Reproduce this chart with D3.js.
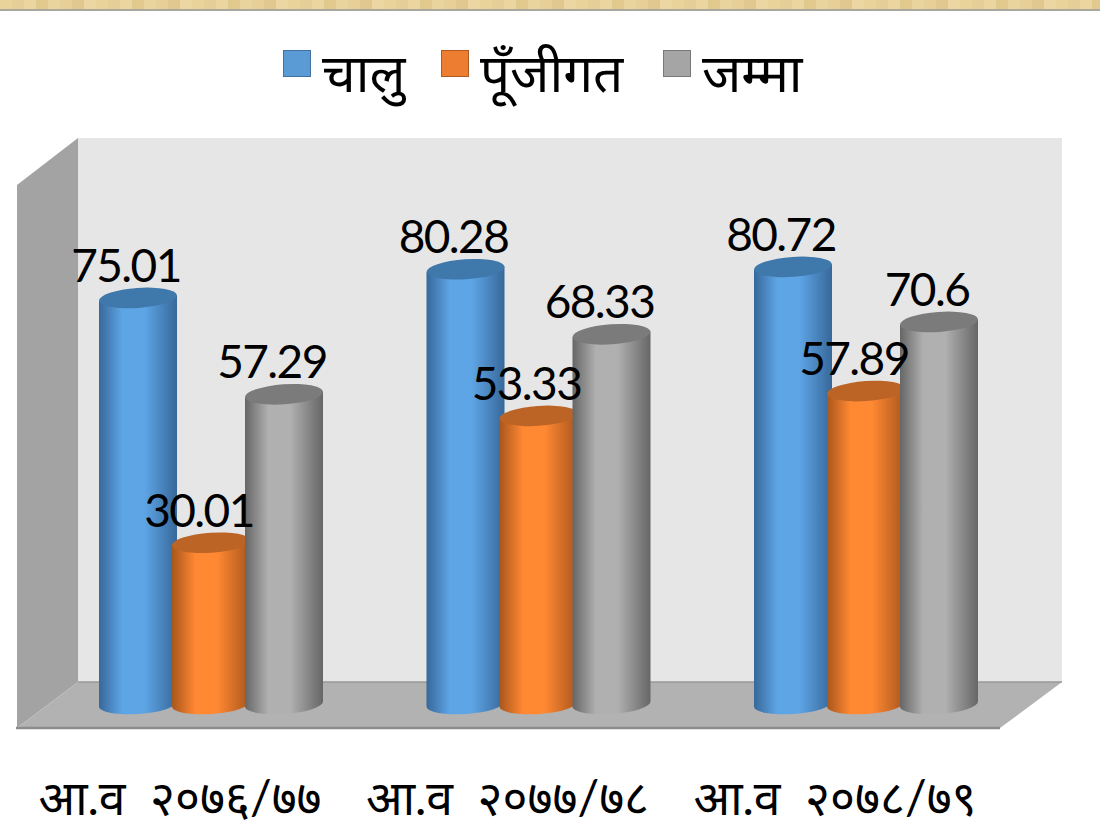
<!DOCTYPE html>
<html>
<head>
<meta charset="utf-8">
<script src="https://cdn.jsdelivr.net/npm/d3@7"></script>
<style>
html,body{margin:0;padding:0;background:#fff;overflow:hidden}
text{font-family:Lato,"Noto Sans","DejaVu Sans",sans-serif;fill:#000}
</style>
</head>
<body>
<script>
const categories = ["आ.व  २०७६/७७", "आ.व  २०७७/७८", "आ.व  २०७८/७९"]
const seriesNames = ["चालु", "पूँजीगत", "जम्मा"]
const chalu = [75.01, 80.28, 80.72]
const punjigat = [30.01, 53.33, 57.89]
const jamma = [57.29, 68.33, 70.6]
const seriesColors = [
  {edge:"#37689a", mid:"#5ea5e6", top:"#3f78ab", swatch:"#5b9bd5", line:"#41719c"},
  {edge:"#a9561c", mid:"#ff8833", top:"#bc6426", swatch:"#ed7d31", line:"#ae5a21"},
  {edge:"#666666", mid:"#b0b0b0", top:"#7b7b7b", swatch:"#a5a5a5", line:"#787878"}
]
const woodStripes = ["#e9d39b","#e6cf96","#ebd6a0","#e2ca8f","#ead49e","#e7d098","#e0c88e","#ecd7a2"]

const width = 1100, height = 824
const svg = d3.select("body").append("svg")
  .attr("width",width).attr("height",height)
  .attr("viewBox",`0 0 ${width} ${height}`)
  .style("display","block")
const defs = svg.append("defs")

// banner strip at the very top
const wood = defs.append("pattern").attr("id","wood")
  .attr("patternUnits","userSpaceOnUse").attr("width",96).attr("height",10)
wood.selectAll("rect").data(woodStripes).join("rect")
  .attr("x",(d,i)=>i*12).attr("width",12).attr("height",10).attr("fill",d=>d)
svg.append("rect").attr("width",width).attr("height",9).attr("fill","url(#wood)")
svg.append("rect").attr("y",9).attr("width",width).attr("height",2).attr("fill","#aaa79d")

// 3d box
const wall = {left:78,right:1062,top:138,floor:682}
const depth = {x:-61,y:46}
svg.append("rect").attr("x",wall.left).attr("y",wall.top)
  .attr("width",wall.right-wall.left).attr("height",wall.floor-wall.top).attr("fill","#e6e6e6")
svg.append("path").attr("fill","#a3a3a3")
  .attr("d",d3.line()([[wall.left,wall.top],[wall.left+depth.x,wall.top+depth.y+1],[wall.left+depth.x,wall.floor+depth.y],[wall.left,wall.floor]]))
svg.append("path").attr("fill","#b2b2b2")
  .attr("d",d3.line()([[wall.left,wall.floor],[wall.right,wall.floor],[wall.right+depth.x-1,wall.floor+depth.y],[wall.left+depth.x,wall.floor+depth.y]]))
svg.append("line").attr("x1",wall.left).attr("x2",wall.right).attr("y1",wall.floor).attr("y2",wall.floor).attr("stroke","#999").attr("stroke-width",1.5)
svg.append("line").attr("x1",wall.left+depth.x-1).attr("x2",wall.right+depth.x-1).attr("y1",wall.floor+depth.y).attr("y2",wall.floor+depth.y).attr("stroke","#8c8c8c").attr("stroke-width",2.5)

// scales
const x = d3.scaleBand().domain(categories).range([47.25,1029.75])
const inner = d3.scalePoint().domain(seriesNames).range([-73,73])
const y = d3.scaleLinear().domain([0,100]).range([706,162])

const rx = 39, ry = 10, tilt = -4

seriesColors.forEach((c,i)=>{
  const g = defs.append("linearGradient").attr("id","cyl"+i)
  g.append("stop").attr("offset","0%").attr("stop-color",c.edge)
  g.append("stop").attr("offset","30%").attr("stop-color",c.mid)
  g.append("stop").attr("offset","58%").attr("stop-color",c.mid)
  g.append("stop").attr("offset","100%").attr("stop-color",c.edge)
})

const bars = []
const allValues = [chalu,punjigat,jamma]
seriesNames.forEach((s,i)=>categories.forEach((cat,j)=>{
  bars.push({s,i,cat,v:allValues[i][j]})
}))

const cyl = svg.selectAll(".bar").data(bars).join("g").attr("class","bar")
  .attr("transform",d=>`translate(${x(d.cat)+x.bandwidth()/2+inner(d.s)},0)`)

cyl.append("path")
  .attr("fill",d=>`url(#cyl${d.i})`)
  .attr("d",d=>{
    const t=y(d.v), b=y(0)-2
    const dy=Math.sin(-tilt*Math.PI/180)*rx
    return `M${-rx},${t+dy} L${-rx},${b+dy} A${rx},${ry} ${tilt} 0 0 ${rx},${b-dy} L${rx},${t-dy} Z`
  })
cyl.append("ellipse")
  .attr("rx",rx).attr("ry",ry)
  .attr("transform",d=>`translate(0,${y(d.v)}) rotate(${tilt})`)
  .attr("fill",d=>seriesColors[d.i].top)

// value labels go over every bar
svg.selectAll(".val").data(bars).join("text").attr("class","val")
  .attr("x",d=>x(d.cat)+x.bandwidth()/2+inner(d.s)-12)
  .attr("y",d=>y(d.v)-16)
  .attr("text-anchor","middle")
  .attr("font-size",46)
  .attr("letter-spacing",-1.6)
  .text(d=>d.v)

// category axis
const axis = svg.append("g").attr("transform","translate(0,815)")
  .call(d3.axisBottom(x).tickSize(0).tickPadding(0))
axis.select(".domain").remove()
axis.selectAll("text")
  .attr("dy",0).attr("y",0).attr("dx",-31)
  .attr("font-size",48).style("white-space","pre")
  .attr("fill","#000")

// legend
const legendX = d3.scaleOrdinal().domain(seriesNames).range([283,441,663])
const legend = svg.selectAll(".leg").data(seriesNames).join("g").attr("class","leg")
  .attr("transform",d=>`translate(${legendX(d)},50)`)
legend.append("rect").attr("x",.5).attr("y",.5).attr("width",27).attr("height",26)
  .attr("fill",(d,i)=>seriesColors[i].swatch).attr("stroke",(d,i)=>seriesColors[i].line)
legend.append("text").attr("x",39).attr("y",42).attr("font-size",53).text(d=>d)
</script>
</body>
</html>
